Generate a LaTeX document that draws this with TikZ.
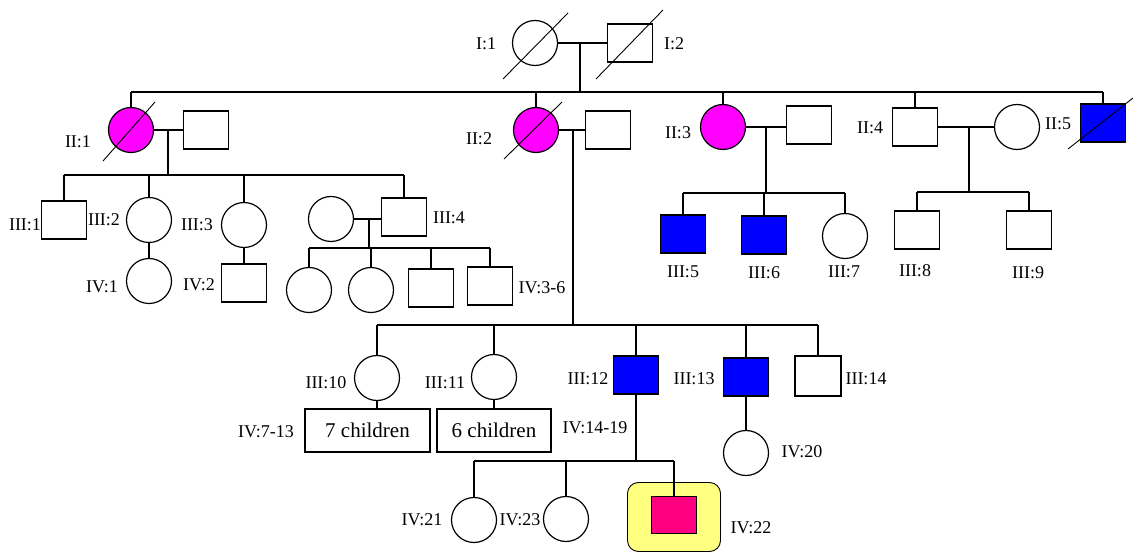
\documentclass[tikz,border=0pt]{standalone}
\usepackage{fontspec}
\setmainfont{Liberation Serif}
\usetikzlibrary{calc}
\definecolor{magC}{HTML}{FF00FF}
\definecolor{bluC}{HTML}{0000FF}
\definecolor{pinkC}{HTML}{FF0080}
\definecolor{yelC}{HTML}{FFFF80}
\begin{document}
\begin{tikzpicture}[x=1pt,y=-1pt,line width=1.4pt,
  fem/.style={circle,draw,line width=1.2pt,minimum size=45pt,inner sep=0pt},
  mal/.style={rectangle,draw,minimum width=45pt,minimum height=38pt,inner sep=0pt},
  lbl/.style={font=\fontsize{18}{20}\selectfont,inner sep=0pt},
  grp/.style={rectangle,draw,minimum height=43pt,inner sep=0pt,font=\fontsize{21}{24}\selectfont},
  affm/.style={fill=magC},
  affb/.style={fill=bluC},
  dec/.style={line width=0.9pt}]
\useasboundingbox (0,0) rectangle (1133,553);
% ---------- Generation I
\node[fem] (I1) at (535,43) {};
\node[mal] (I2) at (630,43) {};
\node[lbl] (lI1) at (486,44) {I:1};
\node[lbl] (lI2) at (674,44) {I:2};
\draw[dec] ($(I1)+(-32,36)$) -- ($(I1)+(33,-30)$);
\draw[dec] ($(I2)+(-34,36)$) -- ($(I2)+(33,-33)$);
\coordinate (m0) at (580,43);
\coordinate (g2) at (580,92);
\draw (I1.east) -- (I2.west);
\draw (m0) -- (g2);
% ---------- Generation II
\node[fem,affm] (II1) at (131,130) {};
\node[mal] (S1) at (206,130) {};
\node[fem,affm] (II2) at (536,130) {};
\node[mal] (S2) at (608,130) {};
\node[fem,affm] (II3) at (723,127) {};
\node[mal] (S3) at (809,125) {};
\node[mal] (II4) at (915,127) {};
\node[fem] (II5) at (1017,127) {};
\node[mal,affb] (B5) at (1103,123) {};
\node[lbl] (lII1) at (78,142) {II:1};
\node[lbl] (lII2) at (479,139) {II:2};
\node[lbl] (lII3) at (678,133) {II:3};
\node[lbl] (lII4) at (870,128) {II:4};
\node[lbl] (lII5) at (1058,124) {II:5};
\draw[dec] ($(II1)+(-28,31)$) -- ($(II1)+(24,-28)$);
\draw[dec] ($(II2)+(-32,29)$) -- ($(II2)+(26,-28)$);
\draw[dec] ($(B5)+(-35,26)$) -- ($(B5)+(30,-25)$);
\draw (II1.north |- g2) -- (B5.north |- g2);
\foreach \n in {II1,II2,II3,II4,B5} \draw (\n.north) -- (\n.north |- g2);
% marriages of generation II
\draw (II1.east) -- (S1.west);
\draw (II2.east) -- (S2.west);
\draw (II3.east) -- (II3.east -| S3.west);
\draw (II4.east) -- (II5.west);
\coordinate (m1) at (168,130);
\coordinate (m2) at (573,130);
\coordinate (m3) at (766,127);
\coordinate (m4) at (969,127);
\coordinate (s1) at (168,175);
\coordinate (s2) at (573,325);
\coordinate (s3) at (766,193);
\coordinate (s4) at (969,192);
\draw (m1) -- (s1);
\draw (m2) -- (s2);
\draw (m3) -- (s3);
\draw (m4) -- (s4);
% ---------- Generation III, children of II:1
\node[mal] (III1) at (64,220) {};
\node[fem] (III2) at (149,220) {};
\node[fem] (III3) at (244,225) {};
\node[mal] (III4) at (404,217) {};
\node[fem] (W4) at (331,219) {};
\node[lbl] (lIII1) at (25,225) {III:1};
\node[lbl] (lIII2) at (104,220) {III:2};
\node[lbl] (lIII3) at (197,225) {III:3};
\node[lbl] (lIII4) at (449,218) {III:4};
\draw (III1.north |- s1) -- (III4.north |- s1);
\foreach \n in {III1,III2,III3,III4} \draw (\n.north) -- (\n.north |- s1);
% Generation IV under II:1 branch
\node[fem] (IV1) at (149,281) {};
\node[mal] (IV2) at (244,283) {};
\node[lbl] (lIV1) at (102,287) {IV:1};
\node[lbl] (lIV2) at (199,285) {IV:2};
\draw (III2.south) -- (IV1.north);
\draw (III3.south) -- (IV2.north);
\draw (W4.east) -- (W4.east -| III4.west);
\coordinate (m5) at (369,218);
\coordinate (s5) at (369,248);
\draw (m5) -- (s5);
\node[fem] (IV3) at (309,290) {};
\node[fem] (IV4) at (371,290) {};
\node[mal] (IV5) at (431,288) {};
\node[mal] (IV6) at (490,286) {};
\node[lbl] (lIV36) at (542,288) {IV:3-6};
\draw (IV3.north |- s5) -- (IV6.north |- s5);
\foreach \n in {IV3,IV4,IV5,IV6} \draw (\n.north) -- (\n.north |- s5);
% ---------- Generation III, children of II:3
\node[mal,affb] (III5) at (683,234) {};
\node[mal,affb] (III6) at (764,235) {};
\node[fem] (III7) at (845,236) {};
\node[lbl] (lIII5) at (683,272) {III:5};
\node[lbl] (lIII6) at (764,273) {III:6};
\node[lbl] (lIII7) at (844,272) {III:7};
\draw (III5.north |- s3) -- (III7.north |- s3);
\foreach \n in {III5,III6,III7} \draw (\n.north) -- (\n.north |- s3);
% ---------- Generation III, children of II:4
\node[mal] (III8) at (917,230) {};
\node[mal] (III9) at (1029,230) {};
\node[lbl] (lIII8) at (915,271) {III:8};
\node[lbl] (lIII9) at (1028,273) {III:9};
\draw (III8.north |- s4) -- (III9.north |- s4);
\foreach \n in {III8,III9} \draw (\n.north) -- (\n.north |- s4);
% ---------- Generation III, children of II:2
\node[fem] (III10) at (377,378) {};
\node[fem] (III11) at (494,377) {};
\node[mal,affb] (III12) at (636,375) {};
\node[mal,affb] (III13) at (746,377) {};
\node[mal,minimum height=40pt,minimum width=46pt] (III14) at (818,376) {};
\node[lbl] (lIII10) at (326,383) {III:10};
\node[lbl] (lIII11) at (445,383) {III:11};
\node[lbl] (lIII12) at (588,379) {III:12};
\node[lbl] (lIII13) at (694,379) {III:13};
\node[lbl] (lIII14) at (866,379) {III:14};
\draw (III10.north |- s2) -- (III14.north |- s2);
\foreach \n in {III10,III11,III12,III13,III14} \draw (\n.north) -- (\n.north |- s2);
% groups of children
\node[grp,minimum width=125pt] (G7) at (367.5,430.5) {7 children};
\node[grp,minimum width=114pt] (G6) at (494,430.5) {6 children};
\node[lbl] (lIV713) at (266,432) {IV:7-13};
\node[lbl] (lIV1419) at (595,428) {IV:14-19};
\draw (III10.south) -- (III10.south |- G7.north);
\draw (III11.south) -- (III11.south |- G6.north);
% IV:20
\node[fem] (IV20) at (746,453) {};
\node[lbl] (lIV20) at (802,452) {IV:20};
\draw (III13.south) -- (III13.south |- IV20.north);
% children of III:12
\coordinate (s6) at (636,461);
\draw (III12.south) -- (III12.south |- s6);
\node[fem] (IV21) at (474,520) {};
\node[fem] (IV23) at (566,519) {};
\node[draw,fill=yelC,rounded corners=11pt,line width=0.9pt,minimum width=93pt,minimum height=69pt,inner sep=0pt] (HL) at (674,517) {};
\node[mal,fill=pinkC,minimum height=37pt] (IV22) at (674,515) {};
\node[lbl] (lIV21) at (422,520) {IV:21};
\node[lbl] (lIV23) at (520,520) {IV:23};
\node[lbl] (lIV22) at (751,528) {IV:22};
\draw (IV21.north |- s6) -- (IV22.north |- s6);
\foreach \n in {IV21,IV23,IV22} \draw (\n.north) -- (\n.north |- s6);
\end{tikzpicture}
\end{document}
